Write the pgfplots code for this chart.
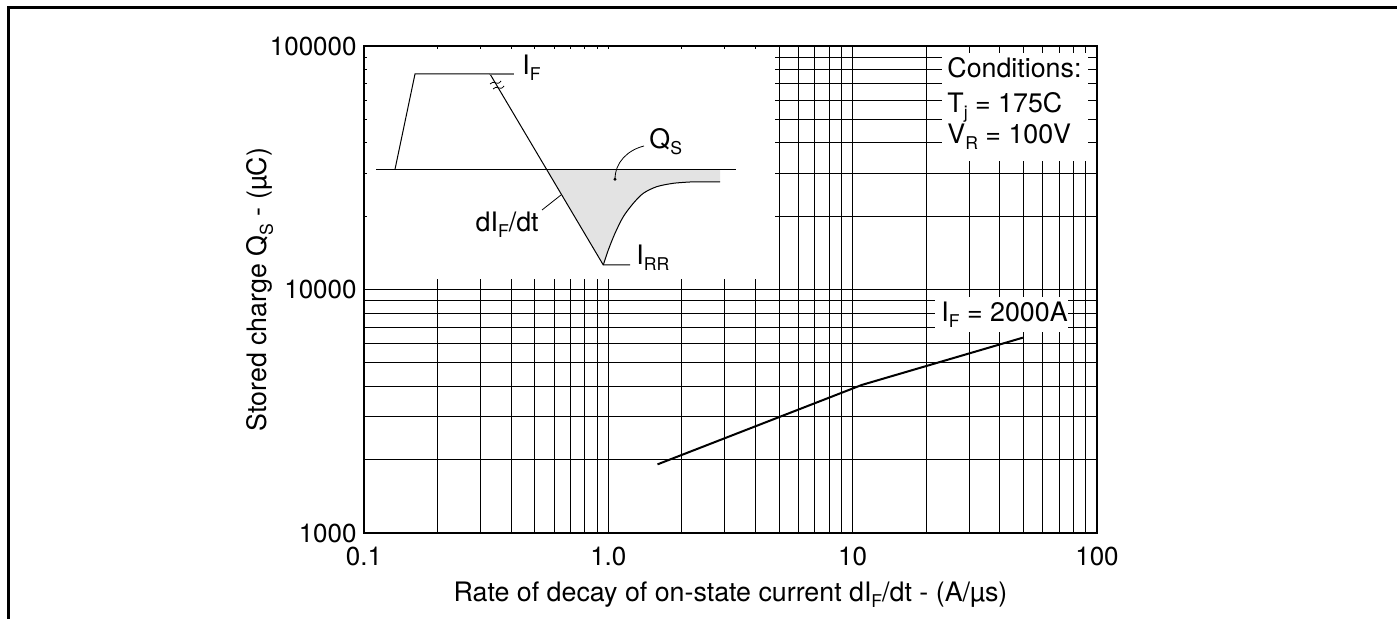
\documentclass[border=0pt]{standalone}
\usepackage{fontspec}
\setmainfont{TeX Gyre Heros}
\usepackage{pgfplots}
\pgfplotsset{compat=1.18}

% subscript used in the labels
\newcommand\sub[1]{\raisebox{-3pt}{\fontsize{8.8}{9}\selectfont #1}}

\begin{document}
\fontsize{13.4}{15}\selectfont
\begin{tikzpicture}
\begin{axis}[
  xmode=log, ymode=log,
  scale only axis,
  width=366.5pt, height=243.5pt,
  at={(182pt,-266.5pt)}, anchor=south west,
  xmin=0.1, xmax=100, ymin=1000, ymax=100000,
  xtick={0.1,1,10,100}, xticklabels={0.1,1.0,10,100},
  ytick={1000,10000,100000}, yticklabels={1000,10000,100000},
  minor xtick={0.2,0.3,0.4,0.5,0.6,0.7,0.8,0.9,2,3,4,5,6,7,8,9,20,30,40,50,60,70,80,90},
  minor ytick={2000,3000,4000,5000,6000,7000,8000,9000,20000,30000,40000,50000,60000,70000,80000,90000},
  grid=both,
  major grid style={black, line width=0.45pt},
  minor grid style={black, line width=0.45pt},
  major tick length=0pt, minor tick length=0pt,
  axis line style={line width=0.7pt},
  tick label style={font=\fontsize{13}{15}\selectfont},
  xticklabel style={anchor=north, inner sep=0pt, yshift=-7pt},
  yticklabel style={anchor=east, inner sep=0pt, xshift=-3.5pt},
]
\addplot[black, line width=1pt] coordinates {(1.59,1914) (10.9,4055) (49.7,6340)};
\end{axis}

\begin{scope}[x=0.5pt, y=-0.5pt]
  % frame
  \draw[line width=1.5pt] (8.5,619) -- (8.5,8) -- (1397,8);
  % boxes that hide the grid
  \fill[white] (367,49) rectangle (775,279);
  \fill[white] (942,53) rectangle (1088,161);
  \fill[white] (935,297) rectangle (1068,332);

  % axis titles
  \node[rotate=90] at (260,289.5) {Stored charge Q\sub{S} - (µC)};
  \node[anchor=base] at (730.5,602) {Rate of decay of on-state current dI\sub{F}/dt - (A/µs)};

  % conditions
  \node[anchor=base west, inner sep=0pt] at (947,78) {Conditions:};
  \node[anchor=base west, inner sep=0pt] at (947,113) {T\sub{j} = 175C};
  \node[anchor=base west, inner sep=0pt] at (947,144) {V\sub{R} = 100V};
  \node[anchor=base west, inner sep=0pt] at (941,322) {I\sub{F} = 2000A};

  % inset sketch of the recovery waveform
  \fill[black!11] (546.5,169.3) -- (603.3,265)
     -- plot[smooth] coordinates {(603.3,265) (608.3,250) (615,233.3) (623.3,216.7) (633.3,203.3) (643.3,193.3) (656.7,186.7) (673.3,183.3) (690,182)}
     -- (720,182) -- (720,169.3) -- cycle;
  \draw[line width=0.5pt] (376,169.3) -- (736,169.3);
  \draw[line width=0.5pt] (395,169.3) -- (415,74) -- (490,74) -- (603.3,265) -- (630,265);
  \draw[line width=0.5pt] plot[smooth] coordinates {(603.3,265) (608.3,250) (615,233.3) (623.3,216.7) (633.3,203.3) (643.3,193.3) (656.7,186.7) (673.3,183.3) (690,182)} -- (720,182);
  \draw[black!55, line width=0.6pt] (490,74) -- (514,74);
  % break mark on the falling edge
  \draw[line width=0.4pt] (490,84) .. controls (494,79) and (497,87) .. (501,81);
  \draw[line width=0.4pt] (493,89) .. controls (497,84) and (500,92) .. (504,86);
  % leaders
  \draw[line width=0.4pt] (542,210) -- (561,195);
  \draw[line width=0.4pt] (644,146) .. controls (628,150) and (615,162) .. (615,179.3);
  \fill (615,179.3) circle (1.6);

  \node[anchor=base west, inner sep=0pt] at (522,75) {I\sub{F}};
  \node[anchor=base west, inner sep=0pt] at (649,149) {Q\sub{S}};
  \node[anchor=base east, inner sep=0pt] at (539,232) {dI\sub{F}/dt};
  \node[anchor=base west, inner sep=0pt] at (636,265) {I\sub{RR}};

  \pgfresetboundingbox
  \path[use as bounding box] (0,0) rectangle (1397,619);
\end{scope}
\end{tikzpicture}
\end{document}
